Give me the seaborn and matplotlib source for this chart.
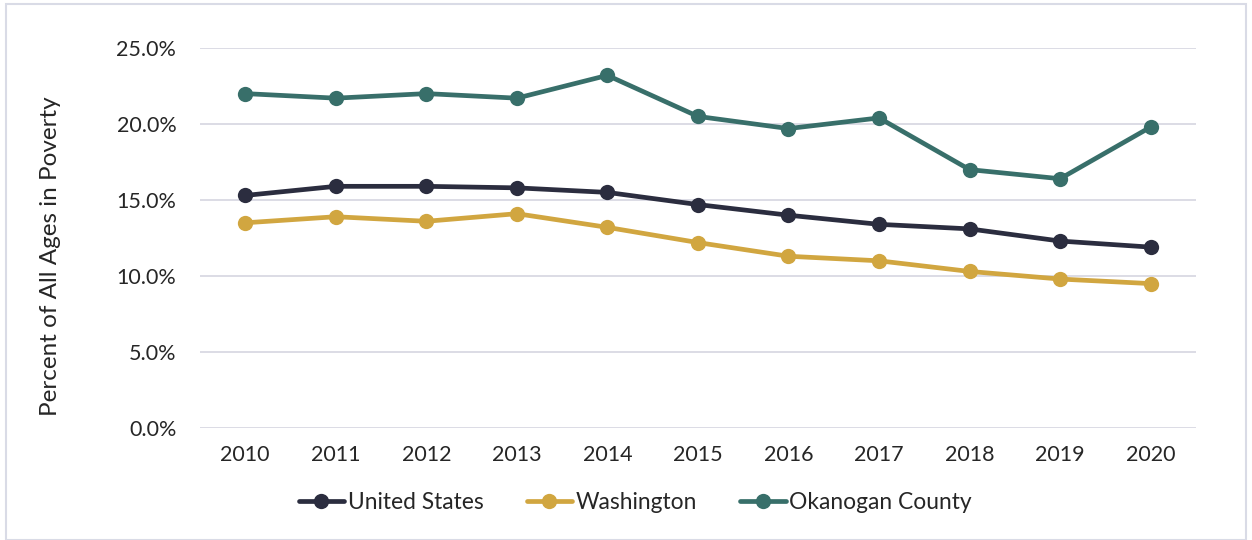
import pandas as pd
import seaborn as sns
import matplotlib.pyplot as plt
from matplotlib.patches import Rectangle

years = [2010, 2011, 2012, 2013, 2014, 2015, 2016, 2017, 2018, 2019, 2020]
united_states = [15.3, 15.9, 15.9, 15.8, 15.5, 14.7, 14.0, 13.4, 13.1, 12.3, 11.9]
washington = [13.5, 13.9, 13.6, 14.1, 13.2, 12.2, 11.3, 11.0, 10.3, 9.8, 9.5]
okanogan = [22.0, 21.7, 22.0, 21.7, 23.2, 20.5, 19.7, 20.4, 17.0, 16.4, 19.8]
series = ['United States', 'Washington', 'Okanogan County']
colors = ['#2b2d3f', '#d1a640', '#386f6a']

df = pd.DataFrame({'year': years * 3,
                   'value': united_states + washington + okanogan,
                   'area': [s for s in series for _ in years]})

sns.set_style('white')
plt.rcParams['font.family'] = ['Lato', 'DejaVu Sans']

fig = plt.figure(figsize=(12.52, 5.4), dpi=100)
ax = fig.add_axes([0.1597, 0.2074, 0.7955, 0.7037])

sns.lineplot(data=df, x='year', y='value', hue='area', hue_order=series,
             palette=colors, marker='o', markersize=11, markeredgewidth=0,
             linewidth=3.4, ax=ax)

ax.set_xlim(2009.5, 2020.5)
ax.set_ylim(0, 25)
ax.set_xticks(years)
ax.set_yticks([0, 5, 10, 15, 20, 25])
ax.set_yticklabels([f'{v:.1f}%' for v in [0, 5, 10, 15, 20, 25]])
ax.tick_params(labelsize=15.5, length=0)
ax.tick_params(axis='x', pad=12)
ax.tick_params(axis='y', pad=17)
ax.grid(axis='y', color='#d9d9e3', linewidth=1.3)
ax.set_axisbelow(True)
for s in ax.spines.values():
    s.set_visible(False)
ax.set_xlabel('')
ax.set_ylabel('Percent of All Ages in Poverty', fontsize=17.5)
ax.yaxis.set_label_coords(-0.14, 0.453)

ax.legend(loc='upper center', bbox_to_anchor=(0.437, -0.115), ncol=3, frameon=False,
          fontsize=16.4, handlelength=2.0, handletextpad=0.15, columnspacing=1.9)

fig.patches.append(Rectangle((0.005, 0.0), 0.99, 0.993, transform=fig.transFigure,
                             fill=False, edgecolor='#d9dbe6', linewidth=1.5))

plt.savefig('out.png', dpi=100)
